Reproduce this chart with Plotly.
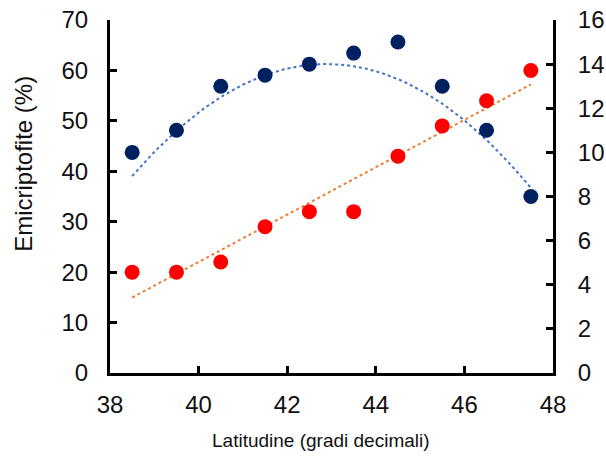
import numpy as np
import plotly.graph_objects as go

lat = [38.5, 39.5, 40.5, 41.5, 42.5, 43.5, 44.5, 45.5, 46.5, 47.5]
emicriptofite = [20, 20, 22, 29, 32, 32, 43, 49, 54, 60]
serie_dx = [10, 11, 13, 13.5, 14, 14.5, 15, 13, 11, 8]

# polynomial trendline (right axis)
trend_dx_x = [38.5, 40.5, 42.9, 45.5, 47.5]
trend_dx_y = [8.97, 12.4, 14.08, 12.2, 8.38]

x_ticks = [38, 40, 42, 44, 46, 48]
y_ticks = [0, 10, 20, 30, 40, 50, 60, 70]
y2_ticks = [0, 2, 4, 6, 8, 10, 12, 14, 16]

xa = np.array(lat)
xf = np.linspace(min(lat), max(lat), 100)
lin = np.polyval(np.polyfit(xa, emicriptofite, 1), xf)
quad = np.polyval(np.polyfit(trend_dx_x, trend_dx_y, 2), xf)

fig = go.Figure()
fig.add_trace(go.Scatter(x=xf, y=quad, mode="lines", yaxis="y2",
                         line=dict(color="#4472C4", width=2, dash="dot"), showlegend=False))
fig.add_trace(go.Scatter(x=xf, y=lin, mode="lines",
                         line=dict(color="#ED7D31", width=2, dash="dot"), showlegend=False))
fig.add_trace(go.Scatter(x=lat, y=serie_dx, mode="markers", yaxis="y2",
                         marker=dict(color="#002060", size=15), showlegend=False))
fig.add_trace(go.Scatter(x=lat, y=emicriptofite, mode="markers",
                         marker=dict(color="#FF0000", size=15), showlegend=False))

font = "Liberation Sans, Arial, sans-serif"
axis_common = dict(showline=True, linecolor="black", linewidth=3, ticks="inside",
                   ticklen=7, tickwidth=3, tickcolor="black", showgrid=False, zeroline=False,
                   automargin=False,
                   tickfont=dict(family=font, size=24, color="#111111"))

fig.update_layout(
    width=606, height=459,
    margin=dict(l=110, r=53, t=20, b=86),
    paper_bgcolor="white", plot_bgcolor="white",
    xaxis=dict(range=[38, 48], tickvals=x_ticks, ticklabelstandoff=8, **axis_common),
    yaxis=dict(range=[0, 70], tickvals=y_ticks, ticklabelstandoff=14, **axis_common),
    yaxis2=dict(range=[0, 16], tickvals=y2_ticks, overlaying="y", side="right", ticklabelstandoff=17,
                **axis_common),
    annotations=[
        dict(text="Emicriptofite (%)", textangle=-90, xref="paper", yref="paper",
             x=-0.196, y=0.593, xanchor="center", yanchor="middle", showarrow=False,
             font=dict(family=font, size=24, color="#111111")),
        dict(text="Latitudine (gradi decimali)", xref="paper", yref="paper",
             x=0.476, y=-0.19, xanchor="center", yanchor="middle", showarrow=False,
             font=dict(family=font, size=19, color="#111111")),
    ],
)

fig.write_html("out.html")
